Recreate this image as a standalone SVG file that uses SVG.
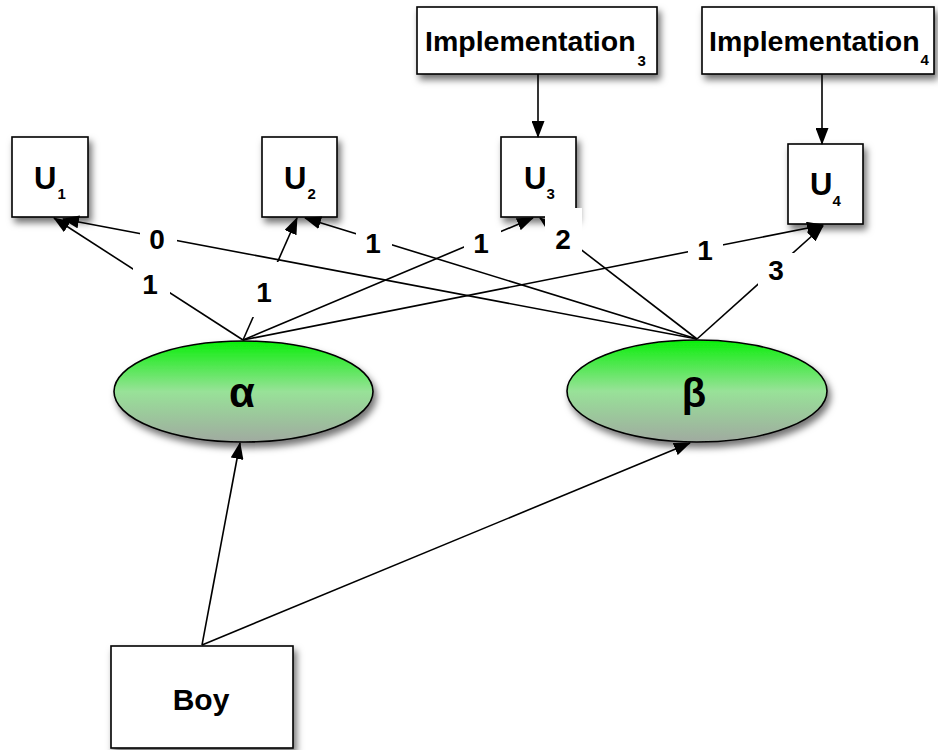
<svg xmlns="http://www.w3.org/2000/svg" width="938" height="750" viewBox="0 0 938 750">
<defs>
<filter id="sh" x="-20%" y="-20%" width="150%" height="160%">
<feDropShadow dx="3" dy="5" stdDeviation="3.5" flood-color="#000" flood-opacity="0.55"/>
</filter>
<linearGradient id="gr" x1="0" y1="0" x2="0" y2="1">
<stop offset="0" stop-color="#0aee0a"/>
<stop offset="0.5" stop-color="#98e298"/>
<stop offset="1" stop-color="#a0aaa0"/>
</linearGradient>
<marker id="ah" markerWidth="17" markerHeight="13" refX="16" refY="6.5" orient="auto" markerUnits="userSpaceOnUse">
<path d="M0,0 L17,6.5 L0,13 Z" fill="#000"/>
</marker>
</defs>
<style>
.box{fill:#fff;stroke:#000;stroke-width:1.6;filter:url(#sh)}
.ell{fill:url(#gr);stroke:#000;stroke-width:1.6;filter:url(#sh)}
.t{font-family:"Liberation Sans",Arial,sans-serif;font-weight:bold;fill:#000}
.c{fill:none;stroke:#000;stroke-width:1.6;marker-end:url(#ah)}
.lb{fill:#fff}
.sub{font-size:15px}
</style>
<g id="impl3"><rect class="box" x="417" y="7" width="240" height="67"/><text class="t" x="425" y="51" font-size="28.5">Implementation<tspan class="sub" dx="2" dy="15">3</tspan></text></g>
<g id="impl4"><rect class="box" x="702" y="7" width="232" height="67"/><text class="t" x="709" y="51" font-size="28.5">Implementation<tspan class="sub" dx="1" dy="14">4</tspan></text></g>
<g id="u1"><rect class="box" x="12" y="137" width="76" height="80"/><text class="t" x="34" y="189" font-size="31">U<tspan class="sub" dx="1" dy="10">1</tspan></text></g>
<g id="u2"><rect class="box" x="262" y="137" width="75" height="80"/><text class="t" x="284" y="189" font-size="31">U<tspan class="sub" dx="1" dy="10">2</tspan></text></g>
<g id="u3"><rect class="box" x="501" y="137" width="75" height="80"/><text class="t" x="524" y="189" font-size="31">U<tspan class="sub" dx="0" dy="10">3</tspan></text></g>
<g id="u4"><rect class="box" x="788" y="144" width="75" height="80"/><text class="t" x="810" y="195" font-size="31">U<tspan class="sub" dx="0" dy="11">4</tspan></text></g>
<g id="alpha"><ellipse class="ell" cx="243.5" cy="391.5" rx="129.5" ry="50.5"/><text class="t" x="242" y="407" font-size="42" text-anchor="middle">α</text></g>
<g id="beta"><ellipse class="ell" cx="697" cy="391" rx="130" ry="51"/><text class="t" x="694" y="407" font-size="40" text-anchor="middle">β</text></g>
<g id="boy"><rect class="box" x="111" y="646" width="182" height="102"/><text class="t" x="201" y="710" font-size="30" text-anchor="middle">Boy</text></g>
<g id="connectors">
<line class="c" x1="538" y1="74" x2="538" y2="137"/>
<line class="c" x1="822" y1="74" x2="822" y2="144"/>
<line class="c" x1="243" y1="340" x2="54" y2="218"/>
<line class="c" x1="243" y1="340" x2="297" y2="218"/>
<line class="c" x1="243" y1="340" x2="533" y2="218"/>
<line class="c" x1="243" y1="340" x2="823" y2="225"/>
<line class="c" x1="697" y1="339" x2="63" y2="219"/>
<line class="c" x1="697" y1="339" x2="305" y2="218"/>
<line class="c" x1="697" y1="339" x2="540" y2="218"/>
<line class="c" x1="697" y1="339" x2="823" y2="226"/>
<line class="c" x1="202" y1="645" x2="240" y2="443"/>
<line class="c" x1="202" y1="645" x2="690" y2="443"/>
</g>
<g id="labels">
<g><rect class="lb" x="140" y="226" width="37" height="28"/><text class="t" x="157" y="249" font-size="28" text-anchor="middle">0</text></g>
<g><rect class="lb" x="133" y="268" width="37" height="30"/><text class="t" x="150" y="294" font-size="28" text-anchor="middle">1</text></g>
<g><rect class="lb" x="251" y="262" width="29" height="55"/><text class="t" x="264" y="302" font-size="28" text-anchor="middle">1</text></g>
<g><rect class="lb" x="356" y="228" width="36" height="30"/><text class="t" x="373" y="253" font-size="28" text-anchor="middle">1</text></g>
<g><rect class="lb" x="464" y="228" width="37" height="30"/><text class="t" x="481" y="253" font-size="28" text-anchor="middle">1</text></g>
<g><rect class="lb" x="545" y="208" width="37" height="44"/><text class="t" x="563" y="249" font-size="28" text-anchor="middle">2</text></g>
<g><rect class="lb" x="688" y="234" width="35" height="30"/><text class="t" x="705" y="260" font-size="28" text-anchor="middle">1</text></g>
<g><rect class="lb" x="758" y="253" width="37" height="33"/><text class="t" x="776" y="280" font-size="28" text-anchor="middle">3</text></g>
</g>
</svg>
